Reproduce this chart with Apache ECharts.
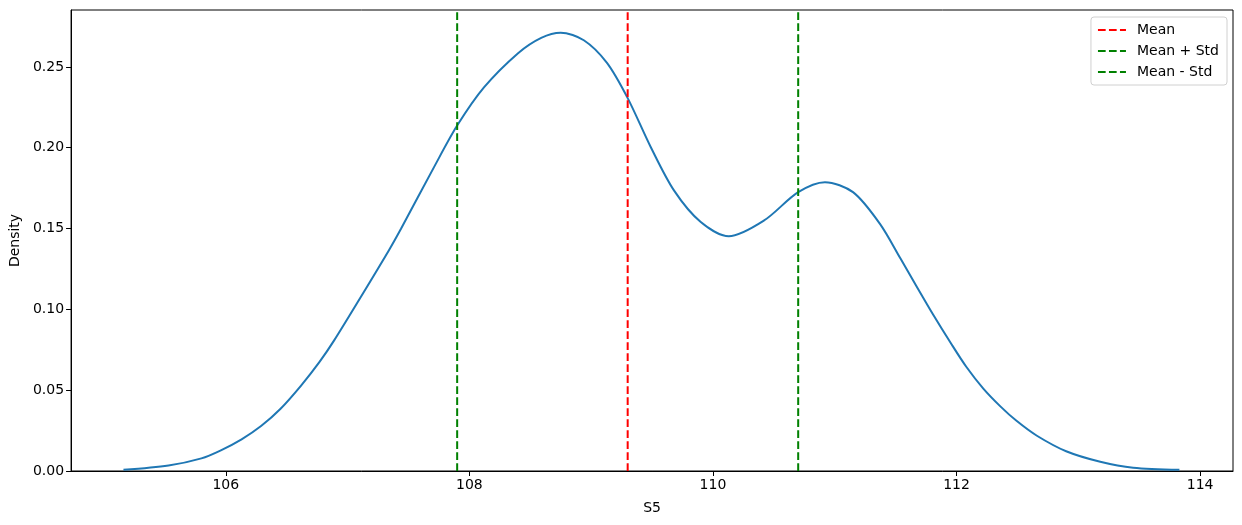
<!DOCTYPE html>
<html>
<head>
<meta charset="utf-8">
<script src="https://cdn.jsdelivr.net/npm/echarts@6/dist/echarts.min.js"></script>
<style>
html,body{margin:0;padding:0;background:#fff;}
#chart{width:1242px;height:525px;}
</style>
</head>
<body>
<div id="chart"></div>
<script>
// KDE curve of S5
const kdeX = [105.16,105.53,105.80,105.96,106.13,106.29,106.45,106.62,106.77,106.89,107.11,107.34,107.44,107.71,107.90,108.12,108.40,108.59,108.75,108.94,109.13,109.30,109.49,109.68,109.90,110.13,110.42,110.70,110.92,111.15,111.37,111.54,111.67,111.81,111.95,112.08,112.22,112.36,112.49,112.66,112.90,113.18,113.45,113.83];
const kdeY = [0.0007,0.0034,0.0078,0.0128,0.0196,0.0278,0.0385,0.0530,0.0675,0.0808,0.1078,0.1366,0.150,0.188,0.2137,0.2373,0.2585,0.268,0.2712,0.2665,0.2525,0.2307,0.2003,0.1736,0.154,0.1452,0.155,0.1725,0.1787,0.1725,0.153,0.1314,0.1145,0.0965,0.0795,0.0645,0.0510,0.0400,0.0312,0.0218,0.0122,0.0057,0.002,0.0007];
const meanValue = 109.30;
const stdValue = 1.40;
const xTicks = [106,108,110,112,114];
const yTicks = [0,0.05,0.10,0.15,0.20,0.25];
const xMin = 104.73, xMax = 114.27;
const yMin = 0, yMax = 0.2852;

const curve = kdeX.map((x,i)=>[x,kdeY[i]]);
const vline = v => [[v,yMin],[v,yMax]];
const font = 'DejaVu Sans';
const dash = [7.7,3.3];

const chart = echarts.init(document.getElementById('chart'), null, {renderer:'canvas'});
chart.setOption({
  animation:false,
  backgroundColor:'#fff',
  textStyle:{fontFamily:font},
  grid:{left:70,right:9,top:10,bottom:54,show:true,borderColor:'#000',borderWidth:1,backgroundColor:'transparent'},
  legend:{
    right:15,top:17,orient:'vertical',
    itemWidth:28,itemHeight:14,itemGap:7,
    padding:[6,8,6,6],
    borderColor:'#d0d0d0',borderWidth:1,borderRadius:3,
    backgroundColor:'rgba(255,255,255,0.8)',
    itemStyle:{opacity:0},
    textStyle:{fontFamily:font,fontSize:14,color:'#000',padding:[0,0,0,6]},
    data:['Mean','Mean + Std','Mean - Std']
  },
  xAxis:{
    type:'value',min:xMin,max:xMax,
    name:'S5',nameLocation:'middle',nameGap:30,
    nameTextStyle:{fontFamily:font,fontSize:14,color:'#000'},
    axisLine:{show:true,lineStyle:{color:'#000',width:1}},
    axisTick:{show:true,inside:false,length:5,lineStyle:{color:'#000'},customValues:xTicks},
    axisLabel:{fontFamily:font,fontSize:14,color:'#000',margin:7,customValues:xTicks,formatter:v=>String(Math.round(v))},
    splitLine:{show:false}
  },
  yAxis:{
    type:'value',min:yMin,max:yMax,
    name:'Density',nameLocation:'middle',nameGap:46,nameRotate:90,
    nameTextStyle:{fontFamily:font,fontSize:14,color:'#000'},
    axisLine:{show:true,lineStyle:{color:'#000',width:1}},
    axisTick:{show:true,inside:false,length:5,lineStyle:{color:'#000'},customValues:yTicks},
    axisLabel:{fontFamily:font,fontSize:14,color:'#000',margin:7,customValues:yTicks,formatter:v=>v.toFixed(2)},
    splitLine:{show:false}
  },
  series:[
    {type:'line',name:'S5',data:curve,smooth:0.3,symbol:'none',lineStyle:{color:'#1f77b4',width:2},z:2},
    {type:'line',name:'Mean',data:vline(meanValue),symbol:'none',lineStyle:{color:'#ff0000',width:2,type:dash},itemStyle:{color:'#ff0000'},z:3},
    {type:'line',name:'Mean + Std',data:vline(meanValue+stdValue),symbol:'none',lineStyle:{color:'#008000',width:2,type:dash},itemStyle:{color:'#008000'},z:3},
    {type:'line',name:'Mean - Std',data:vline(meanValue-stdValue),symbol:'none',lineStyle:{color:'#008000',width:2,type:dash},itemStyle:{color:'#008000'},z:3}
  ]
});
</script>
</body>
</html>
